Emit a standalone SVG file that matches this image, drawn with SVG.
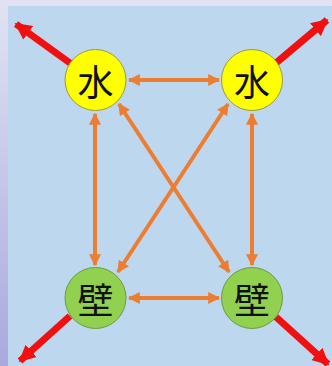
<svg xmlns="http://www.w3.org/2000/svg" width="332" height="366" viewBox="0 0 332 366">
<defs>
<linearGradient id="side" x1="0" y1="0" x2="0" y2="1">
<stop offset="0" stop-color="#e2e2f4"/>
<stop offset="1" stop-color="#a9a9de"/>
</linearGradient>
<marker id="oh" viewBox="0 0 10 10" refX="9" refY="5" markerWidth="3" markerHeight="3" orient="auto-start-reverse" markerUnits="strokeWidth">
<path d="M0,0 L10,5 L0,10 z" fill="#ed7d31"/>
</marker>
<marker id="rh" viewBox="0 0 10 10" refX="9" refY="5" markerWidth="2.4" markerHeight="2.4" orient="auto" markerUnits="strokeWidth">
<path d="M0,0 L10,5 L0,10 z" fill="#f01010"/>
</marker>
</defs>
<style>
.o{stroke:#ed7d31;stroke-width:4;fill:none;marker-start:url(#oh);marker-end:url(#oh)}
.r{stroke:#f01010;stroke-width:7;fill:none;marker-end:url(#rh)}
.w{fill:#ffff00;stroke:#9a9a40;stroke-width:1}
.b{fill:#92d050;stroke:#6f9a40;stroke-width:1}
.t{font-family:"Noto Sans CJK JP","Noto Sans CJK SC",sans-serif;font-size:36px;fill:#111;text-anchor:middle;dominant-baseline:central}
</style>
<rect x="0" y="0" width="332" height="366" fill="url(#side)"/>
<rect x="8" y="6" width="324" height="360" fill="#bdd7ee"/>
<g id="connectors">
<line class="r" x1="70" y1="63" x2="16" y2="24"/>
<line class="r" x1="276" y1="63" x2="327" y2="20"/>
<line class="r" x1="70" y1="316" x2="20" y2="361"/>
<line class="r" x1="276" y1="317" x2="328" y2="364"/>
<line class="o" x1="129" y1="80" x2="219" y2="80"/>
<line class="o" x1="129" y1="298" x2="219" y2="298"/>
<line class="o" x1="95" y1="114" x2="95" y2="265"/>
<line class="o" x1="252" y1="114" x2="252" y2="265"/>
<line class="o" x1="119" y1="104" x2="229" y2="272"/>
<line class="o" x1="228" y1="104" x2="118" y2="272"/>
</g>
<g id="n1"><circle class="w" cx="95.5" cy="80" r="30.5"/><text class="t" x="95.5" y="80">水</text></g>
<g id="n2"><circle class="w" cx="252" cy="80" r="30.5"/><text class="t" x="252" y="80">水</text></g>
<g id="n3"><circle class="b" cx="95.5" cy="298" r="30.5"/><text class="t" x="95.5" y="298">壁</text></g>
<g id="n4"><circle class="b" cx="252" cy="298" r="30.5"/><text class="t" x="252" y="298">壁</text></g>
</svg>
